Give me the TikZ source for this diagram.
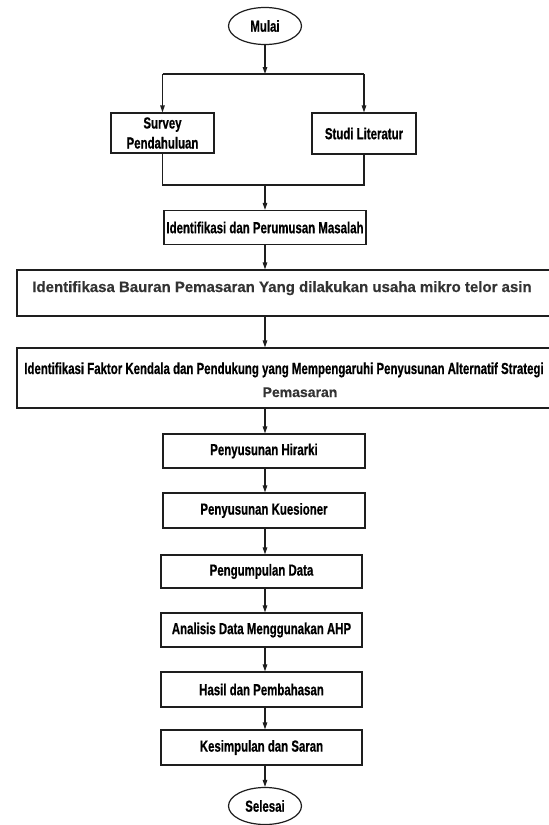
\documentclass[tikz,border=0pt]{standalone}
\usepackage{fontspec}
\setmainfont{Liberation Sans}
\newfontfamily\narrowbf{Liberation Sans}[FakeStretch=0.715,FakeBold=0.6]
\newfontfamily\widebf{Liberation Sans}[FakeBold=0.4]
\usetikzlibrary{arrows.meta,shapes.geometric}
\definecolor{linec}{HTML}{1E1E1E}
\definecolor{graytext}{HTML}{333333}
\tikzset{
  arr/.style={draw=linec, line width=1.2pt, -{Triangle[length=7pt,width=4.5pt]}},
  ln/.style={draw=linec, line width=1.2pt},
  box/.style={rectangle, draw=linec, line width=1.2pt, inner sep=0pt, fill=white,
    font=\narrowbf\bfseries\fontsize{16}{20}\selectfont, align=center},
  term/.style={ellipse, draw=linec, line width=1.2pt, inner sep=0pt,
    minimum width=73pt, minimum height=37pt,
    font=\narrowbf\bfseries\fontsize{16}{18}\selectfont},
  stdbox/.style={box, minimum width=202pt, minimum height=34pt},
  wtext/.style={inner sep=0pt, anchor=base, text=graytext,
    font=\widebf\bfseries\fontsize{15}{18}\selectfont},
  ntext/.style={inner sep=0pt, anchor=base,
    font=\narrowbf\bfseries\fontsize{16}{18}\selectfont}
}
\begin{document}
\begin{tikzpicture}[x=1pt,y=-1pt]
\useasboundingbox[fill=white] (0,0) rectangle (549,825);

% terminals
\node[term] (mulai) at (265,26) {Mulai};
\node[term] (selesai) at (265,806) {Selesai};

% first branch
\node[box, minimum width=103pt, minimum height=40pt] (survey) at (162.5,133) {Survey\\Pendahuluan};
\node[box, minimum width=104pt, minimum height=41pt] (studi) at (364,133.5) {Studi Literatur};
\coordinate (split) at (265,74);
\coordinate (sl) at (162.5,74);
\coordinate (sr) at (364,74);
\coordinate (join) at (265,185);
\coordinate (jl) at (162.5,185);
\coordinate (jr) at (364,185);

\node[stdbox] (ident) at (265,227.5) {Identifikasi dan Perumusan Masalah};

% wide boxes
\node[box, minimum width=534pt, minimum height=46pt] (bauran) at (284,293) {};
\node[wtext] (baurant) at (282,292) {Identifikasa Bauran Pemasaran Yang dilakukan usaha mikro telor asin};

\node[box, minimum width=534pt, minimum height=60pt] (faktor) at (284,378) {};
\node[ntext] (faktort) at (284,374) {Identifikasi Faktor Kendala dan Pendukung yang Mempengaruhi Penyusunan Alternatif Strategi};
\node[wtext, font=\widebf\bfseries\fontsize{14}{17}\selectfont] (faktort2) at (300,397) {Pemasaran};

% lower chain
\node[stdbox] (hirarki) at (264,451) {Penyusunan Hirarki};
\node[stdbox, minimum height=35pt] (kues) at (264,510.5) {Penyusunan Kuesioner};
\node[stdbox, minimum width=201pt, minimum height=33pt] (kumpul) at (261.5,571.5) {Pengumpulan Data};
\node[stdbox, minimum width=201pt, minimum height=34pt] (analisis) at (261.5,630) {Analisis Data Menggunakan AHP};
\node[stdbox, minimum width=201pt, minimum height=35pt] (hasil) at (261.5,689.5) {Hasil dan Pembahasan};
\node[stdbox, minimum width=201pt, minimum height=35pt] (simpul) at (261.5,747.5) {Kesimpulan dan Saran};

% connectors
\draw[arr] (mulai.south) -- (split);
\draw[ln] (sl) -- (sr);
\draw[arr] (sl) -- (survey.north);
\draw[arr] (sr) -- (studi.north);
\draw[ln] (survey.south) -- (jl) -- (jr) -- (studi.south);
\draw[arr] (join) -- (ident.north);
\draw[arr] (ident.south) -- (ident.south |- bauran.north);
\draw[arr] (ident.south |- bauran.south) -- (ident.south |- faktor.north);
\draw[arr] (ident.south |- faktor.south) -- (ident.south |- hirarki.north);
\draw[arr] (ident.south |- hirarki.south) -- (ident.south |- kues.north);
\draw[arr] (ident.south |- kues.south) -- (ident.south |- kumpul.north);
\draw[arr] (ident.south |- kumpul.south) -- (ident.south |- analisis.north);
\draw[arr] (ident.south |- analisis.south) -- (ident.south |- hasil.north);
\draw[arr] (ident.south |- hasil.south) -- (ident.south |- simpul.north);
\draw[arr] (ident.south |- simpul.south) -- (selesai.north);
\end{tikzpicture}
\end{document}
